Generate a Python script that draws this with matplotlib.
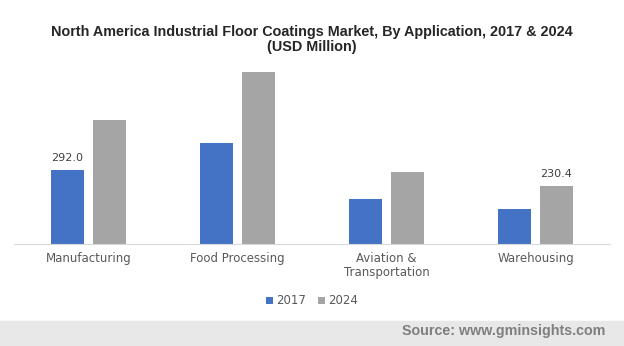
import numpy as np
import matplotlib
matplotlib.use("Agg")
import matplotlib.pyplot as plt
from matplotlib.patches import Rectangle

categories = ["Manufacturing", "Food Processing", "Aviation &\nTransportation", "Warehousing"]
years = ["2017", "2024"]
values_2017 = [292.0, 399, 177, 137]
values_2024 = [490, 680, 284, 230.4]
labels_2017 = ["292.0", "", "", ""]
labels_2024 = ["", "", "", "230.4"]

blue = "#4472C4"
grey = "#A5A5A5"

fig = plt.figure(figsize=(6.24, 3.46), dpi=100)
ax = fig.add_axes([14/624, (346-243.7)/346, 596/624, 176.7/346])

x = np.arange(len(categories))
w = 0.228
off = 0.141
b1 = ax.bar(x - off, values_2017, w, color=blue, label=years[0])
b2 = ax.bar(x + off, values_2024, w, color=grey, label=years[1])

# data labels only where the source shows them
for bars, labs in [(b1, labels_2017), (b2, labels_2024)]:
    for rect, lab in zip(bars, labs):
        if lab:
            ax.annotate(lab, (rect.get_x() + rect.get_width()/2, rect.get_height()),
                        xytext=(0, 5), textcoords="offset points", ha="center", va="bottom",
                        fontsize=8, color="#404040", family="DejaVu Sans")

ax.set_xlim(-0.5, 3.5)
ax.set_ylim(0, 700)
ax.set_yticks([])
ax.set_xticks(x)
ax.set_xticklabels(categories, fontsize=8.5, color="#595959", family="DejaVu Sans",
                   linespacing=1.1)
ax.tick_params(axis="x", length=0, pad=6)
for s in ["top", "right", "left"]:
    ax.spines[s].set_visible(False)
ax.spines["bottom"].set_color("#d9d9d9")

fig.text(0.5, 1 - 39.5/346, "North America Industrial Floor Coatings Market, By Application, 2017 & 2024\n(USD Million)",
         ha="center", va="center", fontsize=10.4, fontweight="bold", color="#262626",
         family="Liberation Sans", linespacing=1.1)

leg = fig.legend(loc="center", bbox_to_anchor=(0.5, 1 - 301/346), ncol=2, frameon=False,
                 handlelength=0.6, handleheight=0.6, handletextpad=0.3,
                 columnspacing=1.0, prop={"family": "DejaVu Sans", "size": 8.5})
for t in leg.get_texts():
    t.set_color("#595959")

fig.patches.append(Rectangle((0, 0), 1, 25/346, transform=fig.transFigure,
                             color="#e8e8e8", zorder=0))
fig.text(605/624, 1 - 331/346, "Source: www.gminsights.com", ha="right", va="center",
         fontsize=10.3, fontweight="bold", color="#7f7f7f", family="Liberation Sans")

fig.savefig("out.png", dpi=100)
